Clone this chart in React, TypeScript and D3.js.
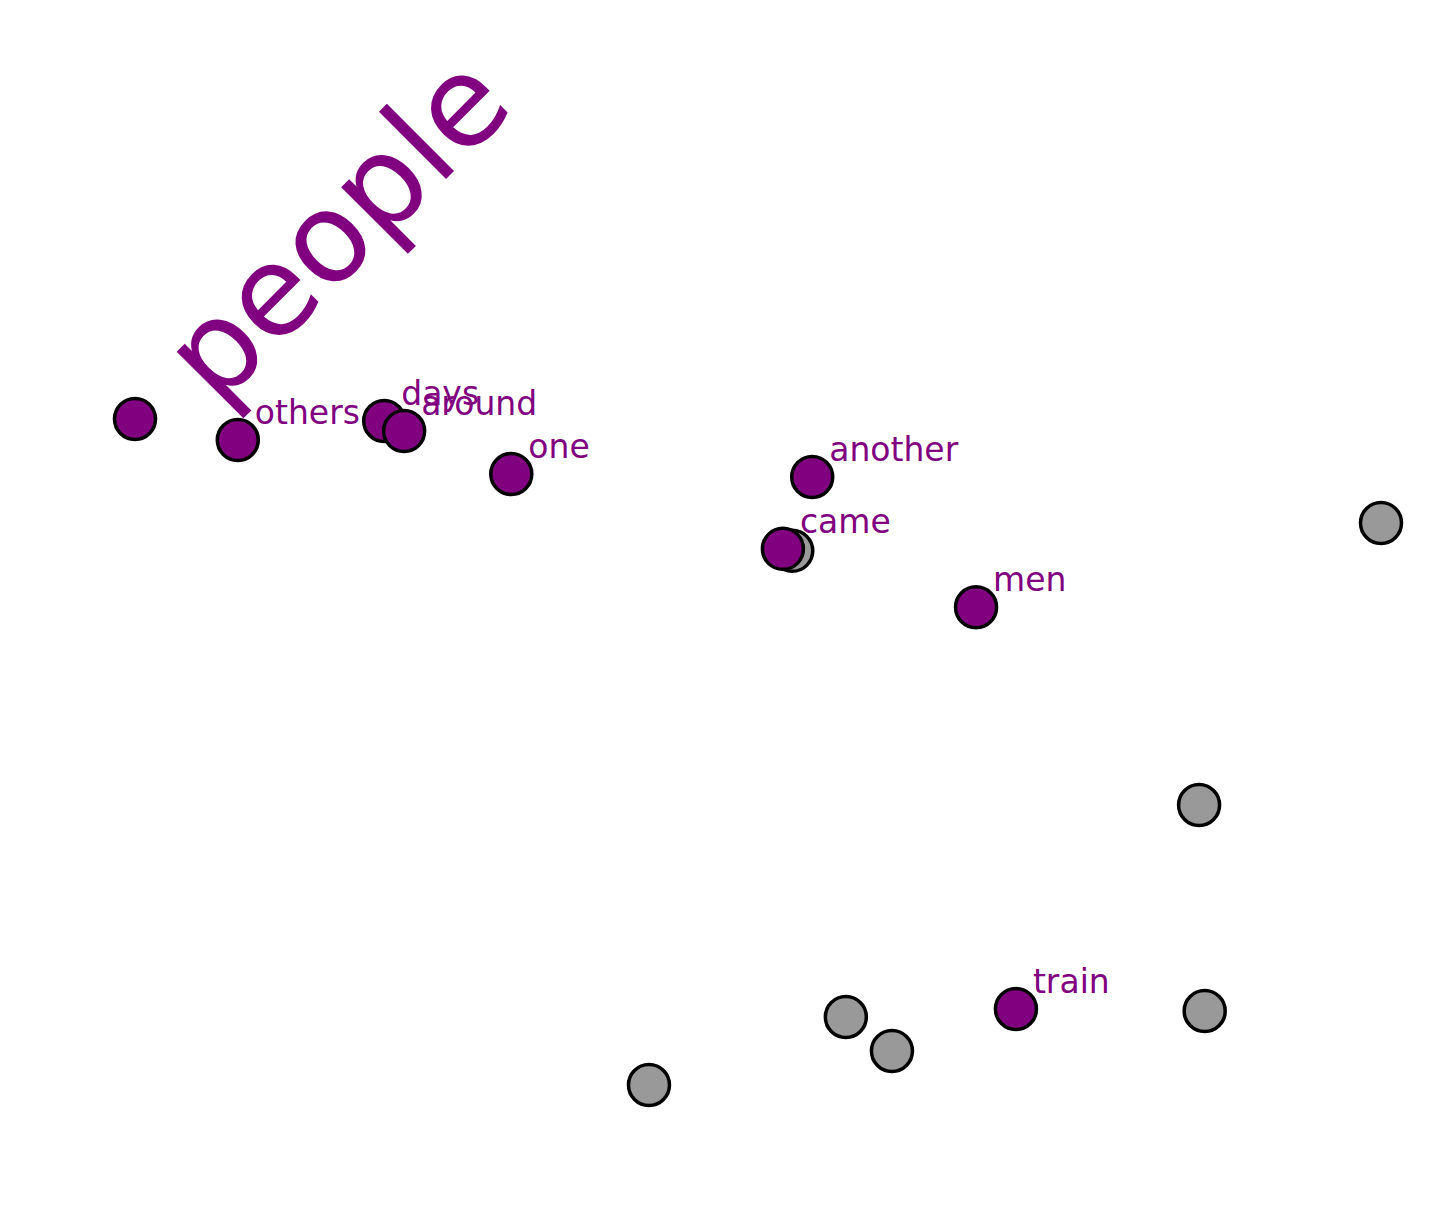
import React, { useRef, useEffect } from "react";
import * as d3 from "d3";

// word embedding projection (arbitrary units)
const words = ["people", "others", "days", "around", "one", "another", "came", "men", "train"];
const wordX = [-1.0, -0.835, -0.6, -0.568, -0.396, 0.087, 0.04, 0.35, 0.414];
const wordY = [1.0, 0.937, 0.994, 0.964, 0.835, 0.826, 0.61, 0.435, -0.772];

// unlabelled neighbours
const otherX = [0.055, 1.0, 0.708, 0.717, 0.141, 0.215, -0.175];
const otherY = [0.604, 0.688, -0.159, -0.778, -0.796, -0.898, -1.0];

const W = 1446;
const H = 1206;

const App = () => {
  const svgRef = useRef<SVGSVGElement>(null);

  useEffect(() => {
    const svg = d3.select(svgRef.current);
    svg.selectAll("*").remove();

    const x = d3.scaleLinear().domain([-1, 1]).range([135, 1381]);
    const y = d3.scaleLinear().domain([-1, 1]).range([1085, 419]);

    const r = 20.5;
    const purple = "#800080";

    const others = otherX.map((v, i) => ({ x: v, y: otherY[i] }));
    const labelled = words.map((w, i) => ({ word: w, x: wordX[i], y: wordY[i] }));

    svg
      .selectAll(".grey")
      .data(others)
      .enter()
      .append("circle")
      .attr("class", "grey")
      .attr("cx", (d) => x(d.x))
      .attr("cy", (d) => y(d.y))
      .attr("r", r)
      .attr("fill", "#999999")
      .attr("stroke", "#000")
      .attr("stroke-width", 3.5);

    svg
      .selectAll(".word")
      .data(labelled)
      .enter()
      .append("circle")
      .attr("class", "word")
      .attr("cx", (d) => x(d.x))
      .attr("cy", (d) => y(d.y))
      .attr("r", r)
      .attr("fill", purple)
      .attr("stroke", "#000")
      .attr("stroke-width", 3.5);

    // small labels
    svg
      .selectAll(".lbl")
      .data(labelled.slice(1))
      .enter()
      .append("text")
      .attr("class", "lbl")
      .attr("x", (d) => x(d.x) + 17)
      .attr("y", (d) => y(d.y) - 16)
      .attr("fill", purple)
      .attr("font-family", "DejaVu Sans")
      .attr("font-size", 33)
      .text((d) => d.word);

    // the query word, big and tilted
    const q = labelled[0];
    svg
      .append("text")
      .attr(
        "transform",
        `translate(${x(q.x) + 82},${y(q.y) - 11}) rotate(-45)`
      )
      .attr("fill", purple)
      .attr("font-family", "DejaVu Sans")
      .attr("font-size", 125)
      .text(q.word);
  }, []);

  return (
    <svg
      ref={svgRef}
      width={W}
      height={H}
      style={{ position: "absolute", left: 0, top: 0, background: "#fff" }}
    />
  );
};

export default App;
